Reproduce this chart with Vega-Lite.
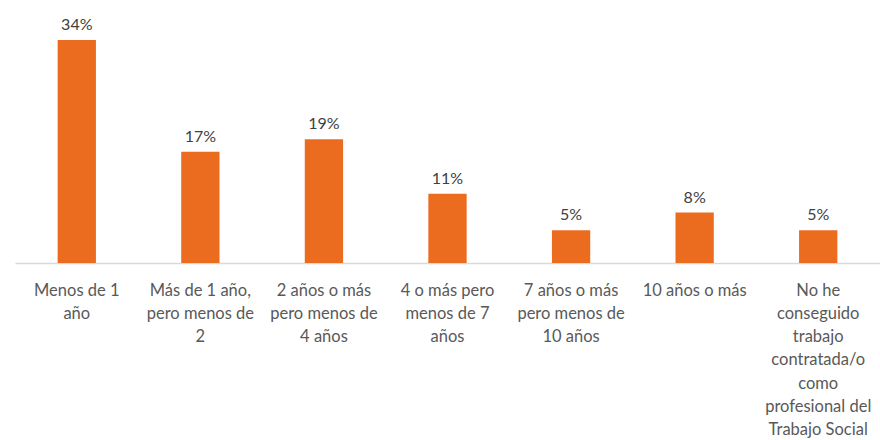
{
  "$schema": "https://vega.github.io/schema/vega-lite/v6.json",
  "width": 865,
  "height": 263,
  "autosize": {"type": "none"},
  "padding": {"left": 15, "top": 0, "right": 0, "bottom": 177},
  "background": "white",
  "config": {"view": {"stroke": null}, "font": "Lato"},
  "data": {
    "values": [
      {"cat": "Menos de 1|año", "value": 0.341},
      {"cat": "Más de 1 año,|pero menos de|2", "value": 0.170},
      {"cat": "2 años o más|pero menos de|4 años", "value": 0.189},
      {"cat": "4 o más pero|menos de 7|años", "value": 0.106},
      {"cat": "7 años o más|pero menos de|10 años", "value": 0.050},
      {"cat": "10 años o más", "value": 0.077},
      {"cat": "No he|conseguido|trabajo|contratada/o|como|profesional del|Trabajo Social", "value": 0.050}
    ]
  },
  "encoding": {
    "x": {
      "field": "cat",
      "type": "nominal",
      "sort": null,
      "scale": {"paddingInner": 0.69, "paddingOuter": 0.345},
      "axis": {
        "title": null,
        "labelAngle": 0,
        "labelExpr": "split(datum.label, '|')",
        "labelFont": "Lato",
        "labelFontSize": 16.5,
        "labelColor": "#595959",
        "labelLineHeight": 23.3,
        "labelPadding": 19,
        "labelLimit": 0,
        "ticks": false,
        "domainColor": "#d9d9d9",
        "domainWidth": 1.5
      }
    },
    "y": {
      "field": "value",
      "type": "quantitative",
      "scale": {"domain": [0, 0.402], "nice": false},
      "axis": null
    }
  },
  "layer": [
    {"mark": {"type": "bar", "color": "#EC6C1F"}},
    {
      "mark": {"type": "text", "dy": -15, "font": "Lato", "fontSize": 16, "color": "#404040"},
      "encoding": {"text": {"field": "value", "type": "quantitative", "format": ".0%"}}
    }
  ]
}
